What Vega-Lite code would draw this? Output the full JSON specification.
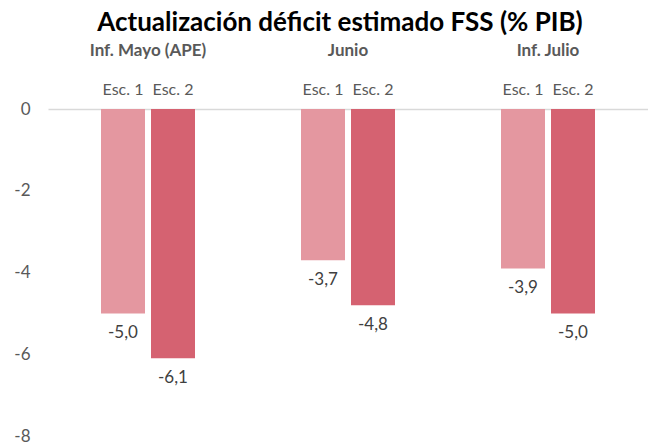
{
  "$schema": "https://vega.github.io/schema/vega-lite/v6.json",
  "width": 600,
  "height": 327,
  "autosize": "none",
  "padding": {"left": 48, "top": 109, "right": 0, "bottom": 8},
  "config": {
    "locale": {"number": {"decimal": ",", "thousands": ".", "grouping": [3], "currency": ["", " €"], "minus": "-"}},
    "view": {"stroke": null},
    "font": "Lato"
  },
  "title": {
    "text": "Actualización déficit estimado FSS (% PIB)",
    "anchor": "middle",
    "frame": "group",
    "fontSize": 26,
    "fontWeight": "bold",
    "color": "#000000",
    "font": "Lato",
    "dx": -8,
    "offset": 5
  },
  "data": {
    "values": [
      {"grupo": "Inf. Mayo (APE)", "esc": "Esc. 1", "valor": -5.0},
      {"grupo": "Inf. Mayo (APE)", "esc": "Esc. 2", "valor": -6.1},
      {"grupo": "Junio", "esc": "Esc. 1", "valor": -3.7},
      {"grupo": "Junio", "esc": "Esc. 2", "valor": -4.8},
      {"grupo": "Inf. Julio", "esc": "Esc. 1", "valor": -3.9},
      {"grupo": "Inf. Julio", "esc": "Esc. 2", "valor": -5.0}
    ]
  },
  "encoding": {
    "x": {
      "field": "grupo",
      "type": "nominal",
      "sort": ["Inf. Mayo (APE)", "Junio", "Inf. Julio"],
      "scale": {"paddingInner": 0.53, "paddingOuter": 0.265},
      "axis": {
        "orient": "top",
        "title": null,
        "ticks": false,
        "labelAngle": 0,
        "domainColor": "#D9D9D9",
        "domainWidth": 1.5,
        "labelFont": "Lato",
        "labelFontWeight": "bold",
        "labelFontSize": 17,
        "labelColor": "#595959",
        "labelBaseline": "middle",
        "labelPadding": 59
      }
    },
    "xOffset": {
      "field": "esc",
      "type": "nominal",
      "scale": {"paddingInner": 0.12, "paddingOuter": 0}
    },
    "y": {
      "field": "valor",
      "type": "quantitative",
      "scale": {"domain": [-8, 0], "nice": false},
      "axis": {
        "values": [0, -2, -4, -6, -8],
        "title": null,
        "grid": false,
        "domain": false,
        "ticks": false,
        "labelPadding": 18,
        "labelFontSize": 17,
        "labelColor": "#595959",
        "labelFont": "Lato",
        "format": "d"
      }
    }
  },
  "layer": [
    {
      "mark": {"type": "bar"},
      "encoding": {
        "color": {
          "field": "esc",
          "type": "nominal",
          "scale": {"domain": ["Esc. 1", "Esc. 2"], "range": ["#E497A0", "#D56271"]},
          "legend": null
        }
      }
    },
    {
      "mark": {"type": "text", "baseline": "middle", "dy": 20, "fontSize": 17, "color": "#404040", "font": "Lato"},
      "encoding": {
        "text": {"field": "valor", "type": "quantitative", "format": ".1f"}
      }
    },
    {
      "mark": {"type": "text", "baseline": "middle", "dy": -19, "fontSize": 16, "color": "#595959", "font": "Lato"},
      "encoding": {
        "y": {"datum": 0},
        "text": {"field": "esc", "type": "nominal"}
      }
    }
  ]
}
